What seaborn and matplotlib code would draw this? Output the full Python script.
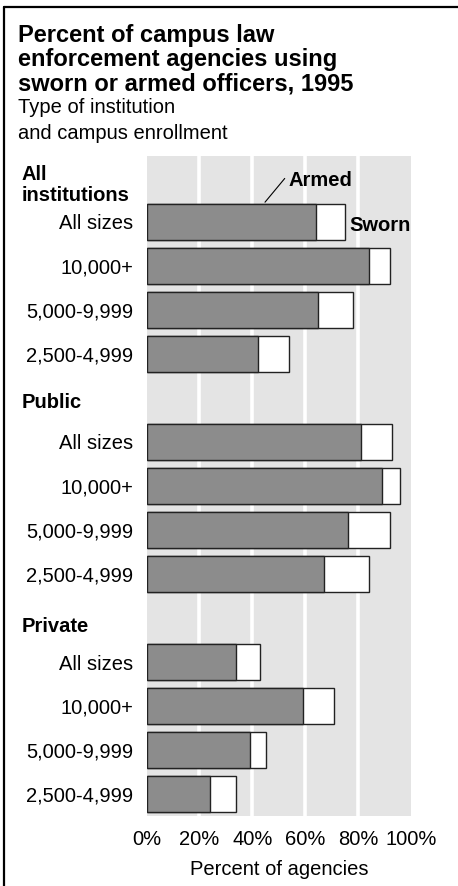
import matplotlib

matplotlib.use("Agg")
import matplotlib.pyplot as plt
import matplotlib.transforms as mtransforms
from matplotlib.lines import Line2D
import pandas as pd
import seaborn as sns


GROUPS = ["All institutions", "Public", "Private"]
GROUP_LABELS = ["All\ninstitutions", "Public", "Private"]
SIZES = ["All sizes", "10,000+", "5,000-9,999", "2,500-4,999"]

ARMED_ALL = [64, 84, 65, 42]
SWORN_ALL = [75, 92, 78, 54]
ARMED_PUBLIC = [81, 89, 76, 67]
SWORN_PUBLIC = [93, 96, 92, 84]
ARMED_PRIVATE = [34, 59, 39, 24]
SWORN_PRIVATE = [43, 71, 45, 34]

X_TICKS = [0, 20, 40, 60, 80, 100]
X_TICK_LABELS = ["0%", "20%", "40%", "60%", "80%", "100%"]

TITLE_LINES = [
    "Percent of campus law",
    "enforcement agencies using",
    "sworn or armed officers, 1995",
]
SUBTITLE_LINES = ["Type of institution", "and campus enrollment"]

W, H = 458, 886


def build_frame():
    armed = [ARMED_ALL, ARMED_PUBLIC, ARMED_PRIVATE]
    sworn = [SWORN_ALL, SWORN_PUBLIC, SWORN_PRIVATE]
    rows, order, labels = [], [], []
    for g, a_vals, s_vals in zip(GROUPS, armed, sworn):
        order.append(f"hdr|{g}")
        labels.append("")
        for size, a, s in zip(SIZES, a_vals, s_vals):
            key = f"{g}|{size}"
            rows.append({"slot": key, "Armed": a, "Sworn": s})
            order.append(key)
            labels.append(size)
    return pd.DataFrame(rows), order, labels


def main():
    sns.set_style("white")
    plt.rcParams["font.family"] = ["Liberation Sans", "DejaVu Sans"]
    plt.rcParams.update({
        "text.color": "black",
        "axes.labelcolor": "black",
        "xtick.color": "black",
        "ytick.color": "black",
    })

    df, order, labels = build_frame()

    fig = plt.figure(figsize=(W / 100, H / 100), dpi=100)
    ax = fig.add_axes([146.5 / W, 1 - 816 / H, 264.5 / W, 660 / H])
    ax.set_facecolor("#e4e4e4")

    for v in X_TICKS[1:-1]:
        ax.axvline(v, color="white", linewidth=2.6, zorder=0.5)

    sns.barplot(data=df, y="slot", x="Sworn", order=order, color="white",
                saturation=1, edgecolor="#222222", linewidth=1.0, width=0.8,
                orient="h", ax=ax)
    sns.barplot(data=df, y="slot", x="Armed", order=order, color="#8c8c8c",
                saturation=1, edgecolor="#222222", linewidth=1.0, width=0.8,
                orient="h", ax=ax)

    ax.set_xlim(0, 100)
    ax.set_ylim(len(order) - 0.5, -0.5)
    ax.set_xticks(X_TICKS)
    ax.set_xticklabels(X_TICK_LABELS, fontsize=14.5)
    ax.set_yticks(range(len(order)))
    ax.set_yticklabels(labels, fontsize=14.5)
    ax.tick_params(axis="y", length=0, pad=9.7)
    ax.tick_params(axis="x", length=0, pad=10)
    ax.set_ylabel("")
    ax.set_xlabel("Percent of agencies", fontsize=14.5, labelpad=8)
    sns.despine(ax=ax, left=True, bottom=True)

    # group headers on the left
    trans = mtransforms.blended_transform_factory(fig.transFigure, ax.transData)
    header_y = [0.16, 5.1, 10.2]
    for lab, y in zip(GROUP_LABELS, header_y):
        ax.text(22 / W, y, lab, transform=trans, ha="left", va="center",
                fontsize=14.5, fontweight="bold", linespacing=1.15)

    # series callouts
    ax.annotate("Armed", xy=(44.8, 0.55), xytext=(53.5, 0.05),
                fontsize=14.5, fontweight="bold", ha="left", va="center",
                arrowprops=dict(arrowstyle="-", color="black", lw=0.8,
                                shrinkA=0, shrinkB=0,
                                relpos=(0.0, 0.8)))
    ax.text(76.7, 1.07, "Sworn", fontsize=14.5, fontweight="bold",
            ha="left", va="center")

    # title block
    for i, line in enumerate(TITLE_LINES):
        fig.text(18 / W, 1 - (41.7 + 24.5 * i) / H, line, fontsize=17,
                 fontweight="bold", ha="left", va="baseline")
    for i, line in enumerate(SUBTITLE_LINES):
        fig.text(18 / W, 1 - (113 + 26 * i) / H, line, fontsize=14.5,
                 ha="left", va="baseline")

    # panel frame (top and left only)
    fig.add_artist(Line2D([4 / W, 1], [1 - 7 / H, 1 - 7 / H],
                          transform=fig.transFigure, color="black", lw=1.6))
    fig.add_artist(Line2D([4 / W, 4 / W], [0, 1 - 7 / H],
                          transform=fig.transFigure, color="black", lw=1.6))

    fig.savefig("out.png", dpi=100)
    plt.close(fig)


if __name__ == "__main__":
    main()
